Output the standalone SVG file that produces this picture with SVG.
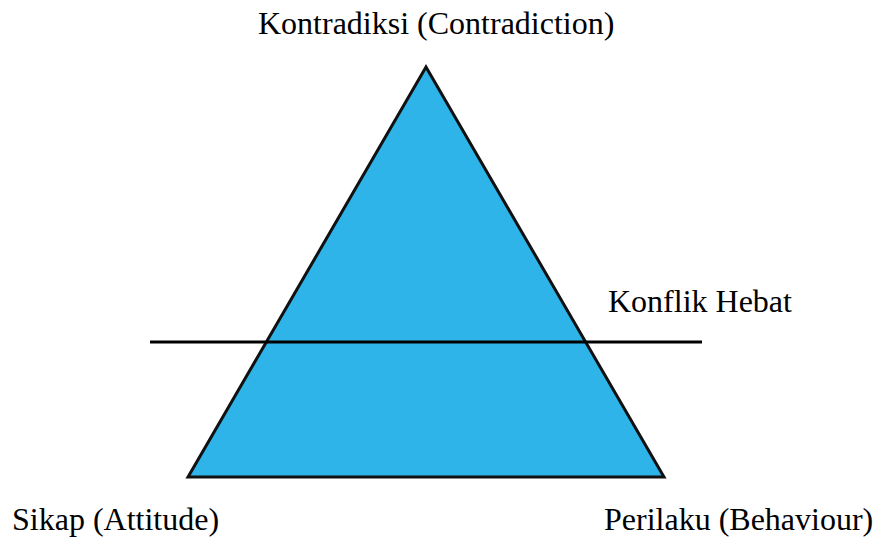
<svg xmlns="http://www.w3.org/2000/svg" width="874" height="540" viewBox="0 0 874 540">
<style>
.t{font-family:"Liberation Serif","Times New Roman",serif;font-size:32px;fill:#000}
</style>
<rect width="874" height="540" fill="#fff"/>
<g id="triangle">
<polygon points="426,67 188,477 664,477" fill="#2eb4e9" stroke="#111" stroke-width="3" stroke-linejoin="miter"/>
</g>
<g id="connectors">
<line x1="150" y1="342" x2="702" y2="342" stroke="#000" stroke-width="3"/>
</g>
<g id="top"><text class="t" x="258" y="34">Kontradiksi (Contradiction)</text></g>
<g id="konflik"><text class="t" x="608" y="312">Konflik Hebat</text></g>
<g id="sikap"><text class="t" x="12" y="530">Sikap (Attitude)</text></g>
<g id="perilaku"><text class="t" x="604" y="530">Perilaku (Behaviour)</text></g>
</svg>
